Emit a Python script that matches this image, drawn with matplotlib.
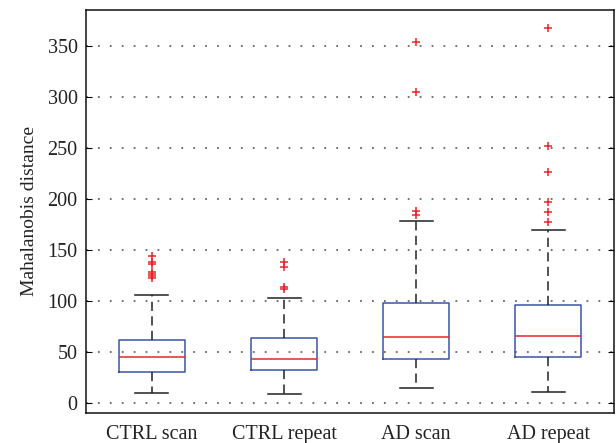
import matplotlib
matplotlib.use('Agg')
from matplotlib import pyplot as plt

# box statistics (Mahalanobis distance)
labels = ['CTRL scan', 'CTRL repeat', 'AD scan', 'AD repeat']
whislo = [9.5, 8.2, 14.1, 10.8]
q1 = [30.4, 31.8, 43.2, 44.5]
med = [44.5, 43.2, 64.5, 65.1]
q3 = [61.2, 63.2, 98.1, 95.6]
whishi = [105.4, 103.0, 178.0, 169.2]
fliers = [[144, 138, 136, 128, 126, 124, 122],
          [137.7, 133.4, 113.2, 111.2],
          [353.6, 305.1, 187.8, 184.2],
          [367.4, 252, 226, 196.6, 187.1, 177]]

plt.rcParams['font.family'] = ['Liberation Serif', 'DejaVu Serif']

fig = plt.figure(figsize=(6.16, 4.43), dpi=100)
ax = fig.add_axes([0.1396, 0.0684, 0.8572, 0.909])

stats = []
for i in range(len(labels)):
    stats.append({'label': labels[i], 'whislo': whislo[i], 'q1': q1[i], 'med': med[i],
                  'q3': q3[i], 'whishi': whishi[i], 'fliers': fliers[i]})

ax.bxp(stats, positions=[1, 2, 3, 4], widths=0.5, capwidths=0.25,
       boxprops=dict(color='#3a55a8', linewidth=1.1),
       medianprops=dict(color='#e8262a', linewidth=1.1),
       whiskerprops=dict(color='#222222', linewidth=1.1, linestyle=(0, (6, 3.5))),
       capprops=dict(color='#222222', linewidth=1.1),
       flierprops=dict(marker='+', markeredgecolor='#e8262a', markersize=5.5, markeredgewidth=1.1))

ax.set_xlim(0.5, 4.5)
ax.set_ylim(-9.7, 385.3)
ax.set_yticks(range(0, 351, 50))
ax.set_ylabel('Mahalanobis distance', fontsize=14, labelpad=7, color='#222222')
ax.yaxis.grid(True, color='#666666', linestyle=(0, (1, 5.6)), linewidth=1.3)
ax.set_axisbelow(True)
ax.tick_params(axis='y', direction='in', right=True, length=4, labelsize=14.5, pad=6,
               labelcolor='#222222')
ax.tick_params(axis='x', length=0, labelsize=14.5, pad=9, labelcolor='#222222')
for s in ax.spines.values():
    s.set_linewidth(1.1)
    s.set_color('#111111')

plt.savefig('out.png', dpi=100)
